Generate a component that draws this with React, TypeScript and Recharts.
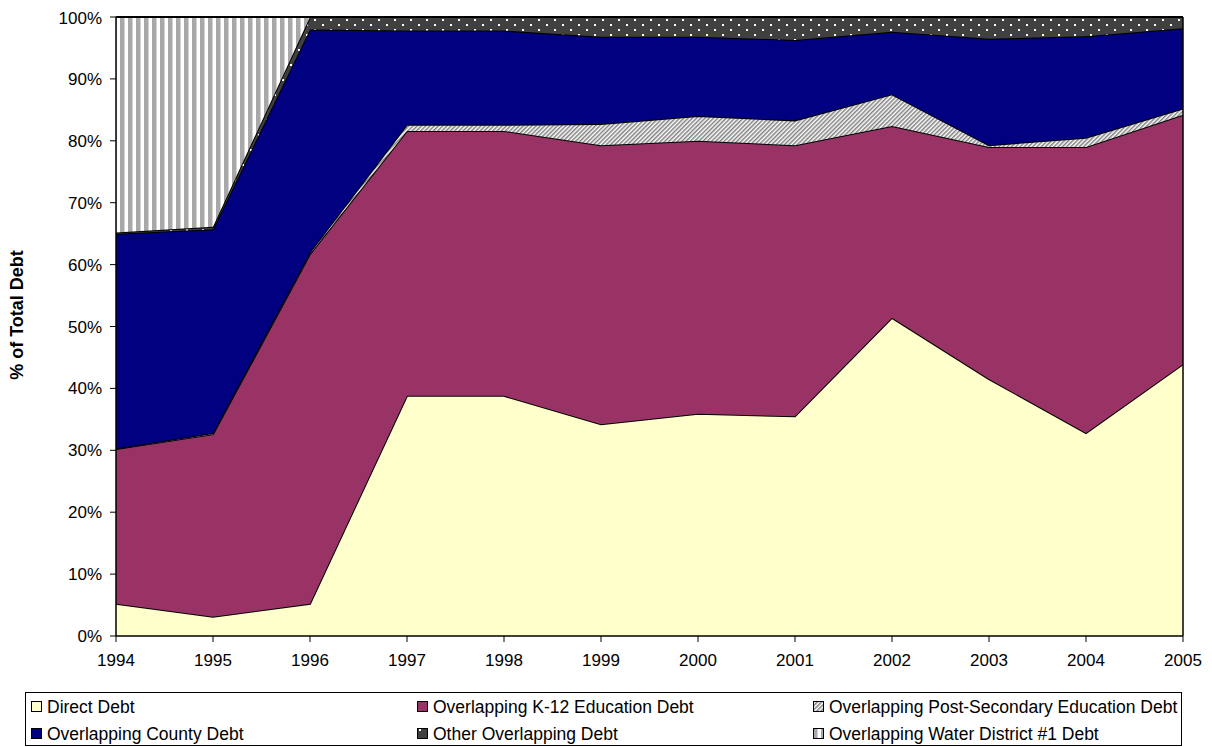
import React from 'react';
import { AreaChart, Area, XAxis, YAxis, Legend, ReferenceLine } from 'recharts';

const years = [1994, 1995, 1996, 1997, 1998, 1999, 2000, 2001, 2002, 2003, 2004, 2005];
const directDebt = [5.2, 3.1, 5.2, 38.8, 38.8, 34.2, 35.9, 35.5, 51.4, 41.5, 32.8, 43.9];
const k12Debt = [25.0, 29.5, 56.5, 42.8, 42.8, 45.1, 44.1, 43.8, 31.0, 37.5, 46.2, 40.3];
const postSecondaryDebt = [0.1, 0.2, 0.3, 1.0, 1.0, 3.4, 4.0, 4.0, 5.1, 0.3, 1.5, 1.0];
const countyDebt = [34.7, 32.9, 36.0, 15.2, 15.2, 14.1, 12.8, 13.0, 10.1, 17.2, 16.4, 13.0];
const otherDebt = [0.2, 0.4, 2.0, 2.2, 2.2, 3.2, 3.2, 3.7, 2.4, 3.5, 3.1, 1.8];
const waterDistrictDebt = [34.8, 33.9, 0, 0, 0, 0, 0, 0, 0, 0, 0, 0];
const yTicks = [0, 10, 20, 30, 40, 50, 60, 70, 80, 90, 100];

const seriesNames = [
  'Direct Debt',
  'Overlapping K-12 Education Debt',
  'Overlapping Post-Secondary Education Debt',
  'Overlapping County Debt',
  'Other Overlapping Debt',
  'Overlapping Water District #1 Debt',
];

const data = years.map((year, i) => ({
  year,
  direct: directDebt[i],
  k12: k12Debt[i],
  postSec: postSecondaryDebt[i],
  county: countyDebt[i],
  other: otherDebt[i],
  water: waterDistrictDebt[i],
}));

const FONT = '"Liberation Sans", Arial, Helvetica, sans-serif';

const series = [
  { key: 'direct', name: seriesNames[0], fill: '#FFFFCC' },
  { key: 'k12', name: seriesNames[1], fill: '#993366' },
  { key: 'postSec', name: seriesNames[2], fill: 'url(#hatchPat)' },
  { key: 'county', name: seriesNames[3], fill: '#000080' },
  { key: 'other', name: seriesNames[4], fill: 'url(#dotPat)' },
  { key: 'water', name: seriesNames[5], fill: 'url(#stripePat)' },
];

const YLabel = (props: any) => {
  const vb = props.viewBox || { x: 0, y: 0, width: 0, height: 0 };
  const cx = vb.x + 9;
  const cy = vb.y + vb.height / 2 - 11.5;
  return (
    <g transform={`translate(${cx} ${cy}) rotate(-90)`}>
      <text
        x={0}
        y={0}
        textAnchor="middle"
        dominantBaseline="central"
        style={{ fontFamily: FONT, fontSize: 18, fontWeight: 'bold' }}
        fill="#000"
      >
        % of Total Debt
      </text>
    </g>
  );
};

const LegendBox = () => {
  const colLefts = [5, 391, 787];
  const rowCenters = [14.5, 41.5];
  return (
    <div
      style={{
        position: 'relative',
        width: 1157,
        height: 54,
        border: '1px solid #000',
        boxSizing: 'border-box',
        background: '#fff',
        fontFamily: FONT,
        fontSize: 17.5,
        color: '#000',
      }}
    >
      {series.map((s, n) => {
        const col = n % 3;
        const row = Math.floor(n / 3);
        const left = colLefts[col];
        const cy = rowCenters[row] - 1;
        return (
          <div key={s.key}>
            <svg width={11} height={11} style={{ position: 'absolute', left, top: cy - 5.5 }}>
              <rect x={0.5} y={0.5} width={10} height={10} fill={s.fill} stroke="#000" strokeWidth={1} />
            </svg>
            <span
              style={{
                position: 'absolute',
                left: left + 16,
                top: cy - 11,
                lineHeight: '22px',
                whiteSpace: 'nowrap',
              }}
            >
              {s.name}
            </span>
          </div>
        );
      })}
    </div>
  );
};

export default function App() {
  return (
    <div style={{ width: 1196, height: 739 }}>
      <AreaChart
        width={1196}
        height={739}
        data={data}
        margin={{ top: 9, right: 21, left: 0, bottom: 71 }}
      >
        <defs>
          <pattern id="hatchPat" width={3} height={3} patternUnits="userSpaceOnUse" patternTransform="rotate(45)">
            <rect width={3} height={3} fill="#ffffff" />
            <rect width={1.5} height={3} fill="#808080" />
          </pattern>
          <pattern id="dotPat" width={16} height={10} patternUnits="userSpaceOnUse">
            <rect width={16} height={10} fill="#404040" />
            <rect x={2} y={1} width={2} height={2} fill="#ffffff" />
            <rect x={10} y={6} width={2} height={2} fill="#ffffff" />
          </pattern>
          <pattern id="stripePat" width={8} height={8} patternUnits="userSpaceOnUse">
            <rect width={8} height={8} fill="#ffffff" />
            <rect width={4.5} height={8} fill="#A8A8A8" />
          </pattern>
        </defs>
        <XAxis
          dataKey="year"
          type="number"
          domain={[1994, 2005]}
          ticks={years}
          allowDecimals={false}
          height={40}
          tickSize={6}
          tickMargin={12}
          axisLine={{ stroke: '#000', strokeWidth: 1.5 }}
          tickLine={{ stroke: '#000' }}
          tick={{ fill: '#000', fontSize: 17, fontFamily: FONT }}
        />
        <YAxis
          type="number"
          domain={[0, 100]}
          ticks={yTicks}
          width={108}
          tickSize={6}
          tickMargin={8}
          tickFormatter={(v: number) => `${v}%`}
          axisLine={{ stroke: '#000', strokeWidth: 1.5 }}
          tickLine={{ stroke: '#000' }}
          tick={{ fill: '#000', fontSize: 17, fontFamily: FONT }}
          label={<YLabel />}
        />
        {series.map((s) => (
          <Area
            key={s.key}
            type="linear"
            dataKey={s.key}
            name={s.name}
            stackId="debt"
            fill={s.fill}
            fillOpacity={1}
            stroke="#000"
            strokeWidth={2}
            isAnimationActive={false}
            dot={false}
            activeDot={false}
          />
        ))}
        <ReferenceLine x={2005} stroke="#000" strokeWidth={1.5} />
        <ReferenceLine y={100} stroke="#000" strokeWidth={1.5} />
        <Legend
          layout="horizontal"
          verticalAlign="middle"
          align="center"
          wrapperStyle={{ left: 17, top: 684, width: 1157, height: 54 }}
          content={() => <LegendBox />}
        />
      </AreaChart>
    </div>
  );
}
